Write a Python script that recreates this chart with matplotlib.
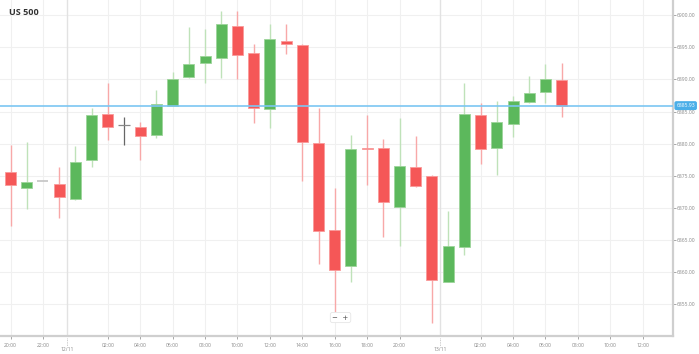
import matplotlib
matplotlib.use("Agg")
import matplotlib.pyplot as plt

# Hourly candles, US 500 (index 0 = 20:00 on 11/11)
opens  = [6875.6, 6873.1, 6874.2, 6873.8, 6871.4, 6877.4, 6884.6, 6882.9, 6882.6, 6881.3,
          6885.9, 6890.4, 6892.5, 6893.3, 6898.3, 6894.1, 6885.4, 6896.0, 6895.3, 6880.1,
          6866.6, 6861.0, 6879.4, 6879.4, 6870.2, 6876.4, 6874.9, 6858.5, 6863.9, 6884.4,
          6879.3, 6883.1, 6886.5, 6888.1, 6889.9]
highs  = [6879.8, 6880.2, 6874.2, 6876.4, 6879.6, 6885.6, 6889.4, 6884.1, 6883.4, 6888.4,
          6891.1, 6898.1, 6897.8, 6900.6, 6900.6, 6895.6, 6898.6, 6898.6, 6895.6, 6885.5,
          6873.1, 6881.4, 6884.5, 6880.8, 6884.0, 6881.2, 6875.1, 6869.5, 6889.4, 6886.4,
          6886.7, 6887.5, 6890.6, 6892.4, 6892.6]
lows   = [6867.2, 6869.8, 6874.2, 6868.4, 6871.2, 6876.4, 6880.6, 6879.8, 6877.5, 6880.9,
          6885.8, 6890.2, 6889.5, 6890.3, 6890.1, 6883.2, 6882.4, 6893.9, 6874.2, 6861.2,
          6853.8, 6858.5, 6873.5, 6865.5, 6864.0, 6873.3, 6852.0, 6858.4, 6862.7, 6876.8,
          6875.1, 6881.1, 6886.3, 6886.4, 6884.1]
closes = [6873.6, 6874.1, 6874.2, 6871.7, 6877.1, 6884.4, 6882.6, 6882.9, 6881.2, 6886.2,
          6890.1, 6892.4, 6893.6, 6898.6, 6893.8, 6885.6, 6896.3, 6895.5, 6880.3, 6866.4,
          6860.4, 6879.1, 6879.1, 6870.9, 6876.6, 6873.4, 6858.7, 6864.1, 6884.6, 6879.1,
          6883.4, 6886.6, 6887.9, 6890.0, 6885.9]
last_price = 6885.93

tick_pos = [0, 2, 6, 8, 10, 12, 14, 16, 18, 20, 22, 24, 29, 31, 33, 35, 37, 39]
tick_lbl = ["20:00", "22:00", "02:00", "04:00", "06:00", "08:00", "10:00", "12:00", "14:00",
            "16:00", "18:00", "20:00", "02:00", "04:00", "06:00", "08:00", "10:00", "12:00"]
day_pos = [3.5, 26.5]
day_lbl = ["12/11", "13/11"]
y_ticks = [6855, 6860, 6865, 6870, 6875, 6880, 6885, 6890, 6895, 6900]

RED, GREEN = "#f55757", "#5cb85c"
RED_W, GREEN_W = "#f8a8a8", "#bfe2b9"
FONT = "Open Sans"

fig = plt.figure(figsize=(6.99, 3.54), dpi=100)
ax = fig.add_axes([0, 18 / 354, 673 / 699, 336 / 354])

# grid
for y in y_ticks:
    ax.axhline(y, color="#f0f0f0", lw=0.8, zorder=0)
for x in tick_pos:
    ax.axvline(x, color="#f0f0f0", lw=0.8, zorder=0)
for x in day_pos:
    ax.axvline(x, color="#e2e2e2", lw=1.0, zorder=0)

# candles
for i, (o, h, l, c) in enumerate(zip(opens, highs, lows, closes)):
    if i == 2:  # flat candle
        ax.hlines(o, i - 0.34, i + 0.34, color="#c4c4c4", lw=1.2, zorder=3)
        continue
    if i == 7:  # doji cross
        ax.vlines(i, l, h, color="#666666", lw=0.9, zorder=3)
        ax.hlines(o, i - 0.34, i + 0.34, color="#888888", lw=0.9, zorder=3)
        continue
    up = c >= o
    ax.vlines(i, l, h, color=GREEN_W if up else RED_W, lw=1.0, zorder=2)
    ax.bar(i, max(abs(c - o), 0.3), bottom=min(o, c), width=0.68,
           color=GREEN if up else RED, edgecolor="#9dd49a" if up else "#f99a9a",
           linewidth=0.6, zorder=3)

# last price line
ax.axhline(last_price, color="#7cc6f2", lw=1.2, zorder=4)

ax.set_xlim(-0.65, 40.87)
ax.set_ylim(6850.05, 6902.38)

for s in ["top", "left"]:
    ax.spines[s].set_visible(False)
ax.spines["right"].set_color("#cfcfcf")
ax.spines["right"].set_linewidth(1.6)
ax.spines["bottom"].set_color("#cfcfcf")
ax.spines["bottom"].set_linewidth(1.6)

ax.yaxis.tick_right()
ax.set_yticks(y_ticks)
ax.set_yticklabels([f"{y:.2f}" for y in y_ticks])
ax.tick_params(axis="y", length=2, width=0.6, color="#999999", labelcolor="#888888",
               labelsize=3.6, pad=1)
ax.set_xticks(tick_pos)
ax.set_xticklabels(tick_lbl)
ax.tick_params(axis="x", length=2, width=0.6, color="#999999", labelcolor="#888888",
               labelsize=3.6, pad=3)
for lab in ax.get_xticklabels() + ax.get_yticklabels():
    lab.set_fontfamily(FONT)

# day labels with dotted ticks
for x, lbl in zip(day_pos, day_lbl):
    ax.plot([x, x], [-0.005, -0.03], transform=ax.get_xaxis_transform(), color="#bbbbbb",
            lw=0.6, ls=(0, (1, 1)), clip_on=False)
    ax.text(x, -0.041, lbl, transform=ax.get_xaxis_transform(), ha="center", va="center",
            fontsize=3.6, color="#888888", family=FONT)

# price label
ax.text(1.005, last_price, f"{last_price:.2f}", transform=ax.get_yaxis_transform(),
        ha="left", va="center", fontsize=3.6, color="white", family=FONT, zorder=6,
        bbox=dict(boxstyle="round,pad=0.25", fc="#4aaee8", ec="#4aaee8"), clip_on=False)

# title
ax.text(0.013, 0.975, "US 500", transform=ax.transAxes, ha="left", va="top",
        fontsize=6.5, fontweight="bold", color="#333333", family=FONT)

# zoom buttons
ax.text(0.506, 0.055, "−  +", transform=ax.transAxes, ha="center", va="center",
        fontsize=5, color="#555555", family="DejaVu Sans", zorder=6,
        bbox=dict(boxstyle="round,pad=0.3", fc="white", ec="#e6e6e6", lw=0.6))

fig.savefig("out.png", dpi=100)
